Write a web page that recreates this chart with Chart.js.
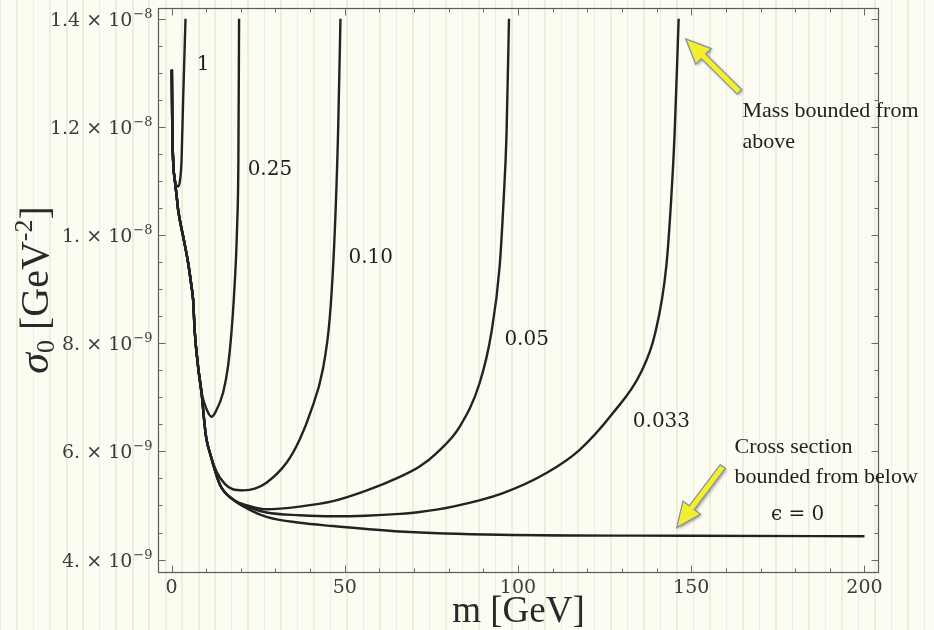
<!DOCTYPE html>
<html>
<head>
<meta charset="utf-8">
<script src="https://cdn.jsdelivr.net/npm/chart.js@4.4.1/dist/chart.umd.min.js"></script>
<style>
  html, body { margin: 0; padding: 0; }
  body {
    width: 934px; height: 630px; overflow: hidden;
    background-color: #fcfcf3;
    background-image: repeating-linear-gradient(90deg,
      rgba(214, 220, 178, 0.4) 0px, rgba(214, 220, 178, 0.4) 1.5px,
      transparent 1.5px, transparent 16.5px);
  }
  canvas { display: block; }
</style>
</head>
<body>
<canvas id="sigmaChart" width="934" height="630"></canvas>
<script>
'use strict';

// m in GeV, sigma0 in units of 1e-9 GeV^-2

// common steep branch near m = 0 (all curves)
const branchTopM = [0.1, 0.2, 0.46, 0.95];
const branchTopS = [13.06, 12.13, 11.39, 11.02];
// eps = 1 turns back up right away
const e1TailM = [1.9, 2.4, 2.9, 3.35, 4.04];
const e1TailS = [10.90, 10.99, 11.39, 12.50, 14.0];
// shared descent for eps <= 0.25
const branchMidM = [1.44, 1.9, 3.38, 4.79, 5.77, 6.23, 6.72, 7.67, 8.66];
const branchMidS = [10.75, 10.47, 9.97, 9.49, 9.05, 8.81, 8.20, 7.57, 7.09];
const e25TailM = [10.2, 11.54, 12.8, 14.9, 16.3, 17.3, 17.97, 18.93, 19.3, 19.5];
const e25TailS = [6.77, 6.64, 6.74, 7.09, 7.57, 8.20, 8.81, 10.16, 11.39, 14.0];
// shared descent for eps <= 0.10
const branchLowM = [9.61, 10.1, 11.05];
const branchLowS = [6.46, 6.22, 5.98];
const e10TailM = [12.98, 15.38, 17.69, 20.66, 24.03, 27.4, 33.2, 37.0, 40.2, 43.65, 45.7, 47.1, 48.07, 48.76];
const e10TailS = [5.63, 5.40, 5.30, 5.28, 5.31, 5.42, 5.79, 6.22, 6.74, 7.51, 8.49, 10.04, 11.89, 14.0];
// shared descent for eps <= 0.05
const branchFloorM = [13.94, 17.77];
const branchFloorS = [5.39, 5.11];
const e05TailM = [22.6, 27.4, 37.0, 46.6, 56.0, 65.9, 71.6, 76.5, 83.2, 88.95, 92.3, 94.7, 95.85, 96.7, 97.4];
const e05TailS = [4.99, 4.93, 4.98, 5.08, 5.27, 5.53, 5.72, 5.97, 6.46, 7.27, 8.19, 9.42, 10.65, 11.89, 14.0];
const e033TailM = [22.6, 27.4, 37.0, 46.6, 56.0, 65.9, 71.6, 81.2, 95.7, 108.2, 117.8, 127.4, 135.4, 139.6, 142.8, 144.2, 145.21, 146.37];
const e033TailS = [4.96, 4.87, 4.82, 4.80, 4.81, 4.845, 4.88, 4.98, 5.23, 5.60, 6.03, 6.71, 7.45, 8.19, 9.42, 10.65, 11.89, 14.0];
const e0TailM = [22.6, 27.4, 37.0, 46.6, 65.9, 94.7, 148.6, 200];
const e0TailS = [4.92, 4.79, 4.68, 4.62, 4.52, 4.46, 4.44, 4.43];

const curveNames = ['1', '0.25', '0.10', '0.05', '0.033', 'ϵ = 0'];
// where each curve name sits (m, sigma0)
const nameM = [9.1, 28.4, 57.5, 102.5, 141.4, 180.7];
const nameS = [13.15, 11.21, 9.58, 8.07, 6.54, 4.82];

// axes
const xTickValues = [0, 50, 100, 150, 200];
const yTickValues = [4, 6, 8, 10, 12, 14];
const yTickMantissa = ['4.', '6.', '8.', '1.', '1.2', '1.4'];
const yTickExponent = ['−9', '−9', '−9', '−8', '−8', '−8'];

// ---------- helpers ----------
function pts(ms, ss) { return ms.map((m, i) => ({ x: m, y: ss[i] })); }
function join(...parts) { return [].concat(...parts); }

const segTop = pts(branchTopM, branchTopS);
const segMid = pts(branchMidM, branchMidS);
const segLow = pts(branchLowM, branchLowS);
const segFloor = pts(branchFloorM, branchFloorS);

const curves = [
  join(segTop, pts(e1TailM, e1TailS)),
  join(segTop, segMid, pts(e25TailM, e25TailS)),
  join(segTop, segMid, segLow, pts(e10TailM, e10TailS)),
  join(segTop, segMid, segLow, segFloor, pts(e05TailM, e05TailS)),
  join(segTop, segMid, segLow, segFloor, pts(e033TailM, e033TailS)),
  join(segTop, segMid, segLow, segFloor, pts(e0TailM, e0TailS)),
];

const SERIF = '"Liberation Serif", "Times New Roman", serif';
const TICKFONT = '"DejaVu Serif", serif';

function drawArrow(ctx, x0, y0, x1, y1) {
  const ang = Math.atan2(y1 - y0, x1 - x0);
  const len = Math.hypot(x1 - x0, y1 - y0);
  const shaft = 3.2, head = 11, headLen = 25;
  ctx.save();
  ctx.translate(x0, y0);
  ctx.rotate(ang);
  ctx.beginPath();
  ctx.moveTo(0, -shaft);
  ctx.lineTo(len - headLen, -shaft);
  ctx.lineTo(len - headLen, -head);
  ctx.lineTo(len, 0);
  ctx.lineTo(len - headLen, head);
  ctx.lineTo(len - headLen, shaft);
  ctx.lineTo(0, shaft);
  ctx.closePath();
  ctx.shadowColor = 'rgba(0,0,0,0.35)';
  ctx.shadowBlur = 3;
  ctx.shadowOffsetX = 1.5;
  ctx.shadowOffsetY = 1.5;
  ctx.fillStyle = '#f3ef2e';
  ctx.fill();
  ctx.shadowColor = 'transparent';
  ctx.strokeStyle = '#8593a6';
  ctx.lineWidth = 1.3;
  ctx.stroke();
  ctx.restore();
}

// frame, inward ticks, labels and notes
const framePlugin = {
  id: 'mmaFrame',
  afterDatasetsDraw(chart) {
    const { ctx, chartArea: a, scales: { x, y } } = chart;
    const L = Math.round(a.left) + 0.5, R = Math.round(a.right) + 0.5;
    const T = Math.round(a.top) + 0.5, B = Math.round(a.bottom) + 0.5;
    ctx.save();

    // frame
    ctx.strokeStyle = '#5a5a5a';
    ctx.lineWidth = 1.2;
    ctx.strokeRect(L, T, R - L, B - T);

    // ticks on all four sides
    ctx.strokeStyle = '#6a6a6a';
    ctx.lineWidth = 1;
    ctx.beginPath();
    for (let v = 0; v <= 200; v += 10) {
      const px = Math.round(x.getPixelForValue(v)) + 0.5;
      const len = v % 50 === 0 ? 7 : 4;
      ctx.moveTo(px, B); ctx.lineTo(px, B - len);
      ctx.moveTo(px, T); ctx.lineTo(px, T + len);
    }
    for (let v = 4; v <= 14.01; v += 0.5) {
      const py = Math.round(y.getPixelForValue(v)) + 0.5;
      const len = Math.abs(v % 2) < 1e-6 ? 7 : 4;
      ctx.moveTo(L, py); ctx.lineTo(L + len, py);
      ctx.moveTo(R, py); ctx.lineTo(R - len, py);
    }
    ctx.stroke();

    // x tick labels
    ctx.fillStyle = '#3c3c3c';
    ctx.font = '19px ' + TICKFONT;
    ctx.textAlign = 'center';
    ctx.textBaseline = 'alphabetic';
    for (const v of xTickValues) ctx.fillText(String(v), x.getPixelForValue(v), B + 20);

    // y tick labels: "a × 10^b"
    yTickValues.forEach((v, i) => {
      const py = y.getPixelForValue(v);
      const base = yTickMantissa[i] + ' × 10';
      ctx.font = '19px ' + TICKFONT;
      const w1 = ctx.measureText(base).width;
      ctx.font = '13px ' + TICKFONT;
      const w2 = ctx.measureText(yTickExponent[i]).width;
      const x0 = L - 7 - w1 - w2;
      ctx.textAlign = 'left';
      ctx.font = '19px ' + TICKFONT;
      ctx.fillText(base, x0, py + 7);
      ctx.font = '13px ' + TICKFONT;
      ctx.fillText(yTickExponent[i], x0 + w1 + 1, py - 1);
    });

    // axis titles
    ctx.fillStyle = '#2a2a2a';
    ctx.font = '37px ' + SERIF;
    ctx.textAlign = 'center';
    ctx.fillText('m [GeV]', (L + R) / 2, 622);

    ctx.save();
    ctx.translate(48, 290);
    ctx.rotate(-Math.PI / 2);
    const parts = [
      { t: 'σ', f: 'italic 42px ' + SERIF, dy: 0 },
      { t: '0', f: '26px ' + SERIF, dy: 6 },
      { t: ' [GeV', f: '40px ' + SERIF, dy: 0 },
      { t: '-2', f: '26px ' + SERIF, dy: -16 },
      { t: ']', f: '40px ' + SERIF, dy: 0 },
    ];
    let total = 0;
    for (const p of parts) { ctx.font = p.f; p.w = ctx.measureText(p.t).width; total += p.w; }
    let cx = -total / 2;
    ctx.textAlign = 'left';
    for (const p of parts) { ctx.font = p.f; ctx.fillText(p.t, cx, p.dy); cx += p.w; }
    ctx.restore();

    // curve names
    ctx.fillStyle = '#1e1e1e';
    ctx.font = '20px ' + TICKFONT;
    ctx.textAlign = 'center';
    ctx.textBaseline = 'middle';
    curveNames.forEach((n, i) => {
      ctx.fillText(n, x.getPixelForValue(nameM[i]), y.getPixelForValue(nameS[i]));
    });

    // notes with arrows
    drawArrow(ctx, x.getPixelForValue(163.9), y.getPixelForValue(12.65),
                   x.getPixelForValue(148.4), y.getPixelForValue(13.63));
    drawArrow(ctx, x.getPixelForValue(159.1), y.getPixelForValue(5.72),
                   x.getPixelForValue(145.8), y.getPixelForValue(4.59));

    ctx.fillStyle = '#222';
    ctx.font = '22px ' + SERIF;
    ctx.textAlign = 'left';
    ctx.textBaseline = 'alphabetic';
    const nx1 = x.getPixelForValue(164.8);
    ctx.fillText('Mass bounded from', nx1, y.getPixelForValue(12.19));
    ctx.fillText('above', nx1, y.getPixelForValue(11.62));
    const nx2 = x.getPixelForValue(162.5);
    ctx.fillText('Cross section', nx2, y.getPixelForValue(5.97));
    ctx.fillText('bounded from below', nx2, y.getPixelForValue(5.42));

    ctx.restore();
  },
};

new Chart(document.getElementById('sigmaChart'), {
  type: 'scatter',
  data: {
    datasets: curves.map((c, i) => ({
      label: curveNames[i],
      data: c,
      showLine: true,
      borderColor: '#232323',
      borderWidth: 2.4,
      pointRadius: 0,
      cubicInterpolationMode: 'monotone',
      fill: false,
    })),
  },
  options: {
    responsive: false,
    animation: false,
    devicePixelRatio: 1,
    layout: { padding: { left: 158, right: 56, top: 8, bottom: 58 } },
    scales: {
      x: { type: 'linear', min: -3.9, max: 203.9, display: false },
      y: { type: 'linear', min: 3.77, max: 14.2, display: false },
    },
    plugins: { legend: { display: false }, tooltip: { enabled: false } },
  },
  plugins: [framePlugin],
});
</script>
</body>
</html>
